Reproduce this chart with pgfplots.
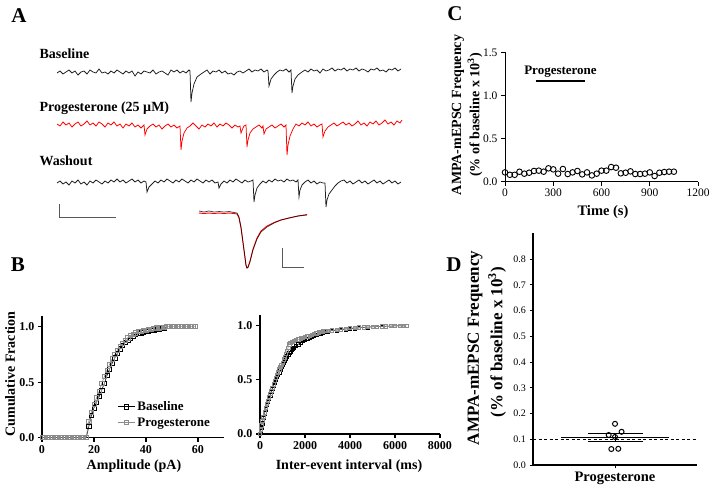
\documentclass[border=0pt]{standalone}
\usepackage{pgfplots}
\pgfplotsset{compat=1.18}
\usepackage{fontspec}
\setmainfont{Liberation Serif}
\newcommand{\fs}[1]{\fontsize{#1}{#1}\selectfont}
\pgfplotsset{gp/.style={scale only axis, axis lines*=left,
  axis line style={-, line width=1.3pt},
  tick style={line width=1.1pt, black}, tick align=outside, major tick length=4pt,
  /pgf/number format/assume math mode=true, scaled ticks=false,
  /pgf/number format/1000 sep={}, clip=false},
  onedec/.style={yticklabel style={/pgf/number format/fixed, /pgf/number format/fixed zerofill, /pgf/number format/precision=1}}}
\begin{document}
\begin{tikzpicture}
\path[use as bounding box] (0pt,0pt) rectangle (714pt,492pt);
% ---------- master pixel axis (panel A, labels) ----------
\begin{axis}[at={(0pt,0pt)}, anchor=south west, scale only axis, width=714pt, height=492pt,
  xmin=0, xmax=714, ymin=0, ymax=492, y dir=reverse, hide axis, clip=false]
% Baseline trace
\addplot[black!88, line width=0.75pt] coordinates {
(57,73)(60,71)(63,74)(66,72)(69,70)(72,73)(75,71)(78,75)(81,72)(84,71)(87,74)(90,70)(93,72)(96,73)(99,69)(102,73)(105,72)(108,74)(111,71)(114,73)(117,70)(120,72)(123,74)(126,71)(129,73)(132,71)(135,76)(138,72)(141,74)(144,71)(147,72)(150,73)(153,70)(156,74)(159,72)(162,71)(165,73)(168,75)(171,70)(174,72)(177,70)(180,73)(183,71)(186,73)(189,70)
(190,71)(191,102)(192,93)(194,84)(197,77)(201,74)
(204,72)(207,70)(210,74)(213,71)(216,72)(219,70)(222,73)(225,71)(228,74)(231,73)(234,75)(237,72)(240,71)(243,73)(246,71)(249,69)(252,72)(255,70)(258,71)(261,69)(264,72)(267,70)
(268,71)(269,86)(271,79)(274,75)
(277,72)(280,70)(283,71)(286,69)(289,72)
(291,70)(292,93)(293,86)(295,79)(298,75)(302,72)
(305,70)(308,72)(311,69)(314,71)(317,70)(320,73)(323,69)(326,71)(329,70)(332,68)(335,71)(338,69)(341,70)(344,68)(347,71)(350,69)(353,70)(356,68)(359,71)(362,69)(365,70)(368,72)(371,69)(374,70)(377,68)(380,71)(383,70)(386,72)(389,69)(392,70)(395,68)(398,71)(401,69)};
% Progesterone trace
\addplot[red, line width=0.75pt] coordinates {
(57,124)(60,126)(63,122)(66,125)(69,123)(72,127)(75,124)(78,122)(81,126)(84,124)(87,121)(90,125)(93,123)(96,126)(99,122)(102,124)(105,127)(108,123)(111,125)(114,122)(117,126)(120,124)(123,128)(126,124)(129,126)(132,123)(135,127)(138,125)(141,128)
(144,125)(145,135)(147,129)
(150,126)(153,124)(156,127)(159,125)(162,129)(165,126)(168,124)(171,127)(174,125)(177,128)
(180,126)(181,150)(182,141)(184,133)(187,128)
(190,126)(193,123)(196,126)(199,129)(202,125)(205,127)(208,124)(211,126)(214,123)(217,127)(220,124)(223,126)(226,123)(229,125)(232,128)(235,125)(238,127)
(240,126)(241,133)(243,128)(244,126)
(246,125)(247,147)(248,140)(250,133)(253,129)
(256,127)(259,125)(262,128)
(263,126)(264,134)(266,129)
(269,127)(272,125)(275,128)(278,126)(281,124)(284,127)
(286,125)(287,155)(288,145)(290,136)(293,129)
(296,124)(299,126)(302,123)(305,125)(308,122)(311,126)(314,124)(317,127)(320,125)
(322,124)(323,137)(325,131)(328,127)
(331,125)(334,123)(337,126)(340,124)(343,122)(346,125)(349,123)(352,126)(355,124)(358,121)(361,125)(364,123)(367,126)(370,122)(373,124)(376,121)(379,125)(382,123)(385,120)(388,124)(391,122)(394,125)(397,121)(400,123)(402,120)};
% Washout trace
\addplot[black!88, line width=0.75pt] coordinates {
(57,183)(60,181)(63,184)(66,182)(69,185)(72,181)(75,183)(78,180)(81,184)(84,182)(87,185)(90,181)(93,183)(96,180)(99,182)(102,184)(105,181)(108,183)(111,180)(114,182)(117,179)(120,182)(123,180)(126,183)(129,181)(132,179)(135,182)(138,180)(141,183)(144,181)
(146,182)(147,192)(149,187)(152,184)
(155,181)(158,183)(161,180)(164,182)(167,179)(170,181)(173,183)(176,180)(179,182)(182,179)(185,181)(188,183)(191,180)(194,182)(197,179)(200,181)(203,183)(206,180)(209,182)(212,180)(215,183)
(218,182)(219,188)(221,184)
(224,181)(227,183)(230,180)(233,182)(236,179)(239,181)(242,183)(245,180)(248,182)(251,181)
(253,180)(254,202)(255,195)(257,188)(260,184)
(263,181)(266,183)(269,180)(272,182)(275,179)(278,181)(281,180)(284,182)(287,179)(290,181)(293,180)(296,182)
(298,180)(299,197)(300,190)(302,185)
(305,182)(308,180)(311,183)(314,181)(317,184)(320,182)(323,183)
(325,183)(326,207)(327,200)(329,194)(332,190)(335,186)
(338,183)(341,181)(344,180)(347,183)(350,181)(353,184)(356,182)(359,180)(362,183)(365,181)(368,184)(371,182)(374,180)(377,183)(380,181)(383,184)(386,182)(389,180)(392,183)(395,181)(398,184)(401,182)};
% scale bars
\addplot[black!65, line width=0.8pt] coordinates {(59,204)(59,217)(116,217)};
\addplot[black!65, line width=0.8pt] coordinates {(282,248)(282,267)(304,267)};
% averaged events
\addplot[red, line width=0.9pt] coordinates {(199,213)(204,213.5)(209,213)(214,213.5)(219,213)(224,213.5)(229,213)(234,213.5)(237,214)(239,218)(241,228)(243,243)(245,258)(246,265.5)(247,268)(248,267)(250,261)(253,249)(257,238)(261,231)(267,226)(274,222.5)(281,220)(289,218)(298,216)(307,215)};
\addplot[black, opacity=0.75, line width=0.7pt] coordinates {(199,211)(204,212)(209,211)(214,212)(219,211.5)(224,212)(229,211.5)(234,212.5)(237,213)(239,217)(241,227)(243,242)(245,257)(246,265)(247,268)(248,267.5)(250,262)(253,250)(257,239)(261,232)(267,227)(274,223)(281,220)(289,218)(298,216)(307,214.5)};
% texts panel A
\node[font=\fs{21}\bfseries] at (axis cs:19,16) {A};
\node[font=\fs{14}\bfseries, anchor=base west] at (axis cs:36,58.7) {Baseline};
\node[font=\fs{14}\bfseries, anchor=base west] at (axis cs:36,111.7) {Progesterone (25 µM)};
\node[font=\fs{14}\bfseries, anchor=base west] at (axis cs:36,165.7) {Washout};
% panel letters
\node[font=\fs{21}\bfseries] at (axis cs:18,265) {B};
\node[font=\fs{21}\bfseries] at (axis cs:455,14) {C};
\node[font=\fs{21}\bfseries] at (axis cs:454,265) {D};
% B labels
\node[font=\fs{14}\bfseries, rotate=90] at (axis cs:10,374) {Cumulative Fraction};
\node[font=\fs{14}\bfseries] at (axis cs:134,466) {Amplitude (pA)};
\node[font=\fs{14}\bfseries] at (axis cs:349,466) {Inter-event interval (ms)};
% C labels
\node[font=\fs{14}\bfseries, rotate=90] at (axis cs:458,115) {AMPA-mEPSC Frequency};
\node[font=\fs{14}\bfseries, rotate=90] at (axis cs:475,115) {(\% of baseline x 10\textsuperscript{3})};
\node[font=\fs{14.5}\bfseries] at (axis cs:603,212) {Time (s)};
% D labels
\node[font=\fs{17}\bfseries, rotate=90] at (axis cs:475,348) {AMPA-mEPSC Frequency};
\node[font=\fs{17}\bfseries, rotate=90] at (axis cs:497,342) {(\% of baseline x 10\textsuperscript{3})};
\end{axis}
% ---------- B1 amplitude ----------
\begin{axis}[gp, onedec, at={(42pt,54.3pt)}, anchor=south west, width=182pt, height=122.1pt,
  xmin=0, xmax=70, ymin=0, ymax=1.1, xtick={0,20,40,60}, ytick={0,0.5,1},
  tick label style={font=\fs{12}\bfseries},
  legend style={draw=none, fill=none, at={(0.41,0.19)}, anchor=west, font=\fs{13}\bfseries,
    row sep=1.5pt, inner sep=1pt}, legend cell align=left]
\addplot[black, line width=0.6pt, mark=square, mark size=2.1pt, mark options={solid, fill=none}] coordinates {
(0,0)(1,0)(2,0)(3,0)(4,0)(5,0)(6,0)(7,0)(8,0)(9,0)(10,0)(11,0)(12,0)(13,0)(14,0)(15,0)(16,0)(17,0)
(18,0.1)(19,0.2)(20,0.27)(21,0.32)(22,0.37)(23,0.43)(24,0.49)(25,0.56)(26,0.62)(27,0.67)(28,0.72)(29,0.76)(30,0.8)(31,0.83)(32,0.86)(33,0.88)(34,0.9)(35,0.915)(36,0.93)(37,0.94)(38,0.945)(39,0.95)(40,0.955)(41,0.96)(42,0.965)(43,0.97)(44,0.975)(45,0.98)(46,0.985)(47,0.99)(48,1.0)};
\addlegendentry{Baseline}
\addplot[black!45, line width=0.6pt, mark=square, mark size=2.1pt, mark options={solid, fill=none}] coordinates {
(0,0)(1,0)(2,0)(3,0)(4,0)(5,0)(6,0)(7,0)(8,0)(9,0)(10,0)(11,0)(12,0)(13,0)(14,0)(15,0)(16,0)(17,0)
(18,0.15)(19,0.23)(20,0.3)(21,0.36)(22,0.42)(23,0.49)(24,0.55)(25,0.61)(26,0.66)(27,0.71)(28,0.75)(29,0.79)(30,0.82)(31,0.85)(32,0.88)(33,0.9)(34,0.92)(35,0.935)(36,0.945)(37,0.955)(38,0.96)(39,0.965)(40,0.97)(41,0.975)(42,0.98)(43,0.985)(44,0.99)(45,0.99)(46,0.995)(47,0.995)(48,1)(49,1)(50,1)(51,1)(52,1)(53,1)(54,1)(55,1)(56,1)(57,1)(58,1)(59,1)};
\addlegendentry{Progesterone}
\end{axis}
% ---------- B2 inter-event interval ----------
\begin{axis}[gp, onedec, at={(260pt,58pt)}, anchor=south west, width=180pt, height=119pt,
  xmin=0, xmax=8000, ymin=0, ymax=1.1, xtick={0,2000,4000,6000,8000}, ytick={0,0.5,1},
  tick label style={font=\fs{12}\bfseries}]
\addplot[black, line width=0.5pt, mark=square, mark size=1.7pt, mark options={solid, fill=none}] coordinates {
(0,0)(30,0.03)(60,0.06)(100,0.1)(150,0.15)(200,0.19)(250,0.23)(300,0.27)(350,0.3)(400,0.33)(450,0.36)(500,0.39)(550,0.42)(600,0.45)(650,0.48)(700,0.5)(750,0.53)(800,0.55)(850,0.57)(900,0.6)(950,0.62)(1000,0.64)(1050,0.66)(1100,0.68)(1150,0.7)(1200,0.72)(1250,0.735)(1300,0.75)(1350,0.765)(1400,0.78)(1450,0.79)(1500,0.8)(1600,0.815)(1700,0.83)(1800,0.845)(1900,0.86)(2000,0.87)(2100,0.88)(2200,0.89)(2300,0.9)(2400,0.91)(2500,0.915)(2600,0.925)(2700,0.93)(2800,0.94)(2900,0.945)(3000,0.95)(3200,0.955)(3400,0.96)(3600,0.965)(3800,0.97)(4000,0.975)(4200,0.978)(4400,0.98)(4600,0.985)(4800,0.988)(5000,0.99)(5200,0.992)(5400,0.994)(5600,0.996)(5800,0.998)(6000,0.999)(6200,1)(6400,1)(6500,1)};
\addplot[black!45, line width=0.5pt, mark=square, mark size=1.7pt, mark options={solid, fill=none}] coordinates {
(0,0)(30,0.04)(60,0.08)(100,0.12)(150,0.16)(200,0.2)(250,0.24)(300,0.28)(350,0.31)(400,0.34)(450,0.37)(500,0.4)(550,0.43)(600,0.46)(650,0.49)(700,0.52)(750,0.55)(800,0.57)(850,0.6)(900,0.62)(950,0.64)(1000,0.66)(1050,0.69)(1100,0.71)(1150,0.74)(1200,0.77)(1250,0.8)(1300,0.83)(1350,0.845)(1400,0.85)(1450,0.855)(1500,0.86)(1600,0.87)(1700,0.875)(1800,0.885)(1900,0.89)(2000,0.9)(2100,0.905)(2200,0.91)(2300,0.92)(2400,0.925)(2500,0.93)(2600,0.94)(2700,0.945)(2800,0.95)(2900,0.952)(3000,0.955)(3200,0.96)(3400,0.965)(3600,0.97)(3800,0.975)(4000,0.98)(4200,0.983)(4400,0.986)(4600,0.988)(4800,0.99)(5000,0.992)(5200,0.994)(5400,0.996)(5600,0.997)(5800,0.998)(6000,0.999)(6200,1)(6400,1)(6500,1)};
\end{axis}
% ---------- C time course ----------
\begin{axis}[gp, onedec, at={(505pt,310.3pt)}, anchor=south west, width=193pt, height=129.4pt,
  axis line style={-, line width=1pt}, tick style={line width=0.9pt, black},
  xmin=0, xmax=1200, ymin=0, ymax=1.5, xtick={0,300,600,900,1200}, ytick={0,0.5,1,1.5},
  tick label style={font=\fs{11.5}}]
\addplot[only marks, black, mark=o, mark size=2.8pt, mark options={line width=0.9pt, fill=white}] coordinates {
(0,0.108)(30,0.08)(60,0.08)(90,0.115)(120,0.093)(150,0.104)(180,0.124)(210,0.128)(240,0.116)(270,0.155)(300,0.143)(330,0.093)(360,0.147)(390,0.089)(420,0.108)(450,0.124)(480,0.085)(510,0.108)(540,0.073)(570,0.093)(600,0.128)(630,0.128)(660,0.17)(690,0.162)(720,0.097)(750,0.104)(780,0.12)(810,0.089)(840,0.089)(870,0.093)(900,0.108)(930,0.066)(960,0.104)(990,0.112)(1020,0.116)(1050,0.116)};
\addplot[black, line width=1.6pt] coordinates {(190,1.17)(495,1.17)};
\node[font=\fs{13}\bfseries] at (axis cs:345,1.27) {Progesterone};
\end{axis}
% ---------- D summary ----------
\begin{axis}[gp, onedec, at={(533pt,27pt)}, anchor=south west, width=164pt, height=231.7pt,
  axis line style={-, line width=1.3pt}, tick style={line width=0.9pt, black}, major tick length=3.5pt,
  xmin=-1, xmax=1, ymin=0, ymax=0.9, xtick={0}, xticklabels={Progesterone},
  ytick={0,0.1,0.2,0.3,0.4,0.5,0.6,0.7,0.8},
  yticklabel style={font=\fs{10}}, xticklabel style={font=\fs{14.5}\bfseries}]
\addplot[black, line width=0.8pt, dash pattern=on 3pt off 2.5pt] coordinates {(-1,0.1)(1,0.1)};
\addplot[black, line width=0.9pt] coordinates {(-0.66,0.107)(0.66,0.107)};
\addplot[black, line width=0.9pt] coordinates {(-0.33,0.124)(0.34,0.124)};
\addplot[black, line width=0.9pt] coordinates {(-0.33,0.0906)(0.34,0.0906)};
\addplot[black, line width=0.9pt] coordinates {(0,0.0906)(0,0.124)};
\addplot[only marks, black, mark=o, mark size=2.5pt, mark options={line width=1pt, fill=white}] coordinates {
(0,0.16)(-0.077,0.1165)(0.08,0.129)(0,0.109)(-0.045,0.062)(0.04,0.063)};
\end{axis}
\end{tikzpicture}
\end{document}
